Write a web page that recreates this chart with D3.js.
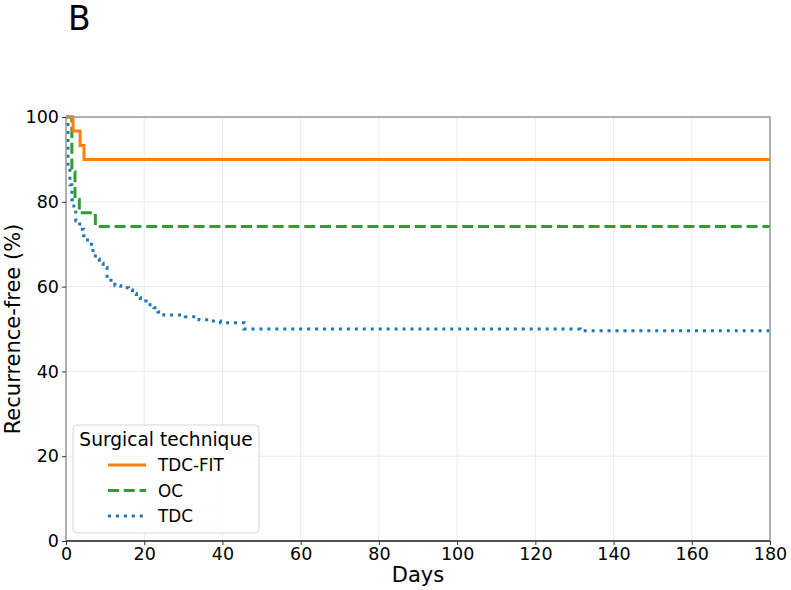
<!DOCTYPE html>
<html>
<head>
<meta charset="utf-8">
<script src="https://cdn.jsdelivr.net/npm/d3@7"></script>
<style>
  body { margin: 0; background: #fff; }
  svg { font-family: "DejaVu Sans", sans-serif; }
</style>
</head>
<body>
<svg id="chart" width="791" height="590"></svg>
<script>
// Kaplan-Meier steps: [day, % after event]
const tdcFitSteps = [[0, 100], [1.8, 96.7], [3.6, 93.3], [4.6, 90.0], [180, 90.0]];
const ocSteps = [[0, 100], [1.5, 87.1], [2.3, 80.6], [3.4, 77.4], [7.5, 74.2], [180, 74.2]];
const tdcSteps = [
  [0, 100], [0.5, 88.5], [1.0, 84.0], [1.5, 80.5], [2.0, 78.0], [2.5, 75.5],
  [3.5, 73.5], [4.5, 72.0], [5.5, 70.0], [6.5, 68.5], [7.5, 66.5], [8.5, 65.5],
  [9.5, 64.5], [10.5, 62.0], [11.5, 61.0], [12.5, 60.2], [14.0, 59.7], [16.0, 59.2],
  [17.0, 58.4], [18.0, 57.5], [19.0, 56.6], [20.5, 55.7], [22.5, 55.0], [23.5, 54.0],
  [25.0, 53.3], [30.5, 52.9], [34.0, 52.2], [36.5, 51.9], [39.5, 51.5], [45.5, 50.0],
  [131.5, 49.6], [180, 49.6]
];
const seriesNames = ["TDC-FIT", "OC", "TDC"];
const seriesColors = ["#ff7f0e", "#2ca02c", "#1f77b4"];
const xTicks = [0, 20, 40, 60, 80, 100, 120, 140, 160, 180];
const yTicks = [0, 20, 40, 60, 80, 100];

const svg = d3.select("#chart");
const margin = {left: 66, right: 21, top: 117, bottom: 49};
const W = 791, H = 590;

const x = d3.scaleLinear().domain([0, 180]).range([margin.left, W - margin.right]);
const y = d3.scaleLinear().domain([0, 100]).range([H - margin.bottom, margin.top]);

// panel letter
svg.append("text").attr("x", 68).attr("y", 30)
   .attr("font-size", 33).attr("fill", "#000").text("B");

// grid
svg.append("g").selectAll("line").data(xTicks).join("line")
   .attr("x1", d => x(d)).attr("x2", d => x(d))
   .attr("y1", y(0)).attr("y2", y(100))
   .attr("stroke", "#ebebeb").attr("stroke-width", 1);
svg.append("g").selectAll("line").data(yTicks).join("line")
   .attr("x1", x(0)).attr("x2", x(180))
   .attr("y1", d => y(d)).attr("y2", d => y(d))
   .attr("stroke", "#ebebeb").attr("stroke-width", 1);

// curves
const line = d3.line().x(d => x(d[0])).y(d => y(d[1])).curve(d3.curveStepAfter);
const dashes = [null, "11,4.8", "3,4.95"];
const allSteps = [tdcFitSteps, ocSteps, tdcSteps];
const plot = svg.append("g");
// draw TDC first so others sit on top, like the picture
[2, 1, 0].forEach(i => {
  plot.append("path").datum(allSteps[i])
      .attr("d", line)
      .attr("fill", "none")
      .attr("stroke", seriesColors[i])
      .attr("stroke-width", 3)
      .attr("stroke-dasharray", dashes[i]);
});

// spines
svg.append("rect").attr("x", x(0)).attr("y", y(100))
   .attr("width", x(180) - x(0)).attr("height", y(0) - y(100))
   .attr("fill", "none").attr("stroke", "#999").attr("stroke-width", 1.5);
svg.append("line").attr("x1", x(0)).attr("x2", x(180)).attr("y1", y(0)).attr("y2", y(0))
   .attr("stroke", "#333").attr("stroke-width", 1.5);

// axes
const xAxis = svg.append("g").attr("transform", `translate(0,${y(0)})`)
   .call(d3.axisBottom(x).tickValues(xTicks).tickSize(4).tickPadding(3));
const yAxis = svg.append("g").attr("transform", `translate(${x(0)},0)`)
   .call(d3.axisLeft(y).tickValues(yTicks).tickSize(4).tickPadding(3));
[xAxis, yAxis].forEach(a => {
  a.select(".domain").remove();
  a.selectAll(".tick line").attr("stroke", "#333");
  a.selectAll(".tick text").attr("font-size", 17.5).attr("fill", "#000")
   .attr("font-family", "DejaVu Sans, sans-serif");
});

svg.append("text").attr("x", (x(0) + x(180)) / 2).attr("y", 582)
   .attr("text-anchor", "middle").attr("font-size", 21).text("Days");
svg.append("text")
   .attr("transform", `translate(20,${(y(0) + y(100)) / 2}) rotate(-90)`)
   .attr("text-anchor", "middle").attr("font-size", 21).text("Recurrence-free (%)");

// legend
const lg = svg.append("g");
lg.append("rect").attr("x", 73).attr("y", 425).attr("width", 186).attr("height", 108)
  .attr("rx", 4).attr("fill", "#fff").attr("fill-opacity", 0.85)
  .attr("stroke", "#d6d6d6");
lg.append("text").attr("x", 166).attr("y", 446).attr("text-anchor", "middle")
  .attr("font-size", 18.6).text("Surgical technique");
seriesNames.forEach((name, i) => {
  const ly = 465 + i * 25.5;
  lg.append("line").attr("x1", 108).attr("x2", 146).attr("y1", ly).attr("y2", ly)
    .attr("stroke", seriesColors[i]).attr("stroke-width", 3)
    .attr("stroke-dasharray", dashes[i]);
  lg.append("text").attr("x", 158).attr("y", ly + 6).attr("font-size", 16.8).text(name);
});
</script>
</body>
</html>
